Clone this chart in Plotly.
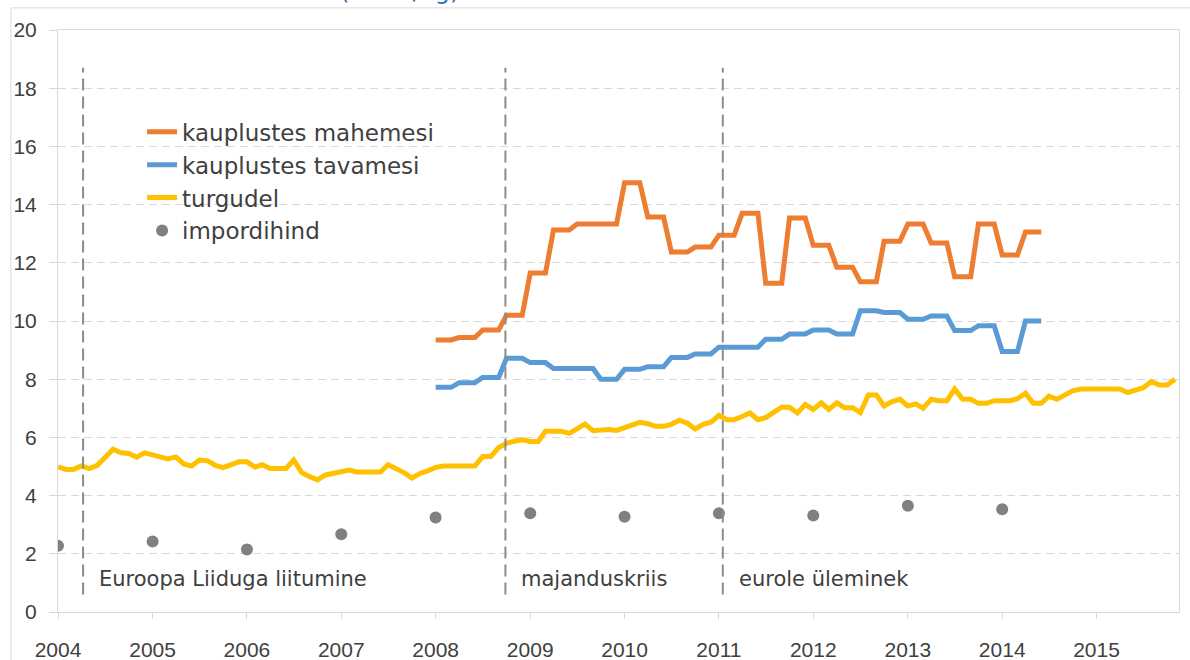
import pandas as pd
import plotly.graph_objects as go

# monthly prices, EUR/kg
turg_2004 = [4.99, 4.90, 4.90, 5.02, 4.93, 5.04, 5.31, 5.59, 5.47, 5.45, 5.32, 5.47]
turg_2005 = [5.40, 5.33, 5.26, 5.33, 5.09, 5.02, 5.22, 5.20, 5.04, 4.96, 5.05, 5.16]
turg_2006 = [5.16, 4.98, 5.06, 4.93, 4.93, 4.93, 5.22, 4.79, 4.65, 4.54, 4.71, 4.76]
turg_2007 = [4.82, 4.88, 4.81, 4.81, 4.81, 4.81, 5.06, 4.93, 4.79, 4.60, 4.76, 4.85]
turg_2008 = [4.97, 5.02, 5.02, 5.02, 5.02, 5.02, 5.34, 5.34, 5.65, 5.80, 5.87, 5.92]
turg_2009 = [5.86, 5.86, 6.21, 6.21, 6.21, 6.14, 6.30, 6.46, 6.23, 6.27, 6.27, 6.24]
turg_2010 = [6.35, 6.45, 6.52, 6.47, 6.38, 6.38, 6.45, 6.59, 6.49, 6.29, 6.45, 6.52]
turg_2011 = [6.76, 6.61, 6.61, 6.72, 6.84, 6.61, 6.68, 6.86, 7.04, 7.04, 6.84, 7.13]
turg_2012 = [6.96, 7.19, 6.96, 7.19, 7.02, 7.02, 6.85, 7.46, 7.46, 7.08, 7.23, 7.31]
turg_2013 = [7.08, 7.15, 7.00, 7.31, 7.26, 7.26, 7.66, 7.31, 7.31, 7.17, 7.17, 7.26]
turg_2014 = [7.26, 7.26, 7.33, 7.52, 7.17, 7.17, 7.42, 7.31, 7.46, 7.60, 7.66, 7.66]
turg_2015 = [7.66, 7.66, 7.66, 7.66, 7.54, 7.62, 7.71, 7.92, 7.80, 7.80, 8.00]  # to Nov

# shop prices (quarterly figures, shown per month), Jan 2008 - Jun 2014
mahe = [9.35, 9.35, 9.35, 9.43, 9.43, 9.43, 9.69, 9.69, 9.69, 10.2, 10.2, 10.2,
        11.65, 11.65, 11.65, 13.13, 13.13, 13.13, 13.33, 13.33, 13.33, 13.33, 13.33, 13.33,
        14.75, 14.75, 14.75, 13.57, 13.57, 13.57, 12.37, 12.37, 12.37, 12.54, 12.54, 12.54,
        12.95, 12.95, 12.95, 13.7, 13.7, 13.7, 11.3, 11.3, 11.3, 13.54, 13.54, 13.54,
        12.6, 12.6, 12.6, 11.85, 11.85, 11.85, 11.35, 11.35, 11.35, 12.74, 12.74, 12.74,
        13.33, 13.33, 13.33, 12.68, 12.68, 12.68, 11.52, 11.52, 11.52, 13.33, 13.33, 13.33,
        12.27, 12.27, 12.27, 13.06, 13.06, 13.06]
tava = [7.72, 7.72, 7.72, 7.88, 7.88, 7.88, 8.06, 8.06, 8.06, 8.72, 8.72, 8.72,
        8.57, 8.57, 8.57, 8.37, 8.37, 8.37, 8.37, 8.37, 8.37, 8.0, 8.0, 8.0,
        8.34, 8.34, 8.34, 8.43, 8.43, 8.43, 8.75, 8.75, 8.75, 8.87, 8.87, 8.87,
        9.1, 9.1, 9.1, 9.1, 9.1, 9.1, 9.37, 9.37, 9.37, 9.55, 9.55, 9.55,
        9.69, 9.69, 9.69, 9.55, 9.55, 9.55, 10.35, 10.35, 10.35, 10.29, 10.29, 10.29,
        10.06, 10.06, 10.06, 10.17, 10.17, 10.17, 9.67, 9.67, 9.67, 9.84, 9.84, 9.84,
        8.95, 8.95, 8.95, 10.0, 10.0, 10.0]

import_years = ["2004-01-01", "2005-01-01", "2006-01-01", "2007-01-01", "2008-01-01", "2009-01-01",
                "2010-01-01", "2011-01-01", "2012-01-01", "2013-01-01", "2014-01-01"]
import_price = [2.28, 2.42, 2.15, 2.67, 3.25, 3.39, 3.27, 3.39, 3.32, 3.65, 3.53]

events = ["2004-04-07", "2008-09-27", "2011-01-16"]
event_labels = ["Euroopa Liiduga liitumine", "majanduskriis", "eurole üleminek"]

turg = (turg_2004 + turg_2005 + turg_2006 + turg_2007 + turg_2008 + turg_2009
        + turg_2010 + turg_2011 + turg_2012 + turg_2013 + turg_2014 + turg_2015)
months_all = pd.date_range("2004-01-01", periods=len(turg), freq="MS")
months_shop = pd.date_range("2008-01-01", periods=len(mahe), freq="MS")

TXT = "#404040"
GRID = "#d9d9d9"

fig = go.Figure()
fig.add_trace(go.Scatter(x=months_shop, y=mahe, mode="lines", name="kauplustes mahemesi",
                         line=dict(color="#ED7D31", width=5)))
fig.add_trace(go.Scatter(x=months_shop, y=tava, mode="lines", name="kauplustes tavamesi",
                         line=dict(color="#5B9BD5", width=5)))
fig.add_trace(go.Scatter(x=months_all, y=turg, mode="lines", name="turgudel",
                         line=dict(color="#FFC000", width=5)))
fig.add_trace(go.Scatter(x=import_years, y=import_price, mode="markers", name="impordihind",
                         marker=dict(color="#808080", size=12)))

for d, lab in zip(events, event_labels):
    fig.add_shape(type="line", xref="x", yref="y", x0=d, x1=d, y0=0.6, y1=18.7,
                  line=dict(color="#8c8c8c", width=2, dash="12px,6px"))
    fig.add_annotation(x=d, y=1.15, xref="x", yref="y", text=lab, showarrow=False,
                       xanchor="left", yanchor="middle", xshift=14,
                       font=dict(family="DejaVu Sans", size=21, color=TXT))

# outer chart frame
fig.add_shape(type="rect", xref="paper", yref="paper", x0=-0.042, x1=1.2, y0=-0.5, y1=1.038,
              line=dict(color=GRID, width=1), layer="below")

# title, cut off at the top of the picture
fig.add_annotation(x=0.305, y=1.04, xref="paper", yref="paper", text="(eurot/kg)",
                   showarrow=False, xanchor="center", yanchor="bottom",
                   font=dict(family="DejaVu Sans", size=24, color="#2E75B6"))

fig.update_xaxes(type="date", range=["2004-01-01", "2015-11-16"], tick0="2004-01-01", dtick="M12",
                 tickformat="%Y", showgrid=False, showline=True, mirror=True, linecolor=GRID,
                 ticks="outside", ticklen=6, tickcolor=GRID, ticklabelstandoff=13, automargin=False,
                 tickfont=dict(family="Liberation Sans", size=21, color=TXT), zeroline=False)
fig.update_yaxes(range=[0, 20], tick0=0, dtick=2, showgrid=True, gridcolor=GRID, griddash="8px,5px",
                 gridwidth=1, showline=True, mirror=True, linecolor=GRID, ticks="outside", ticklen=8,
                 tickcolor=GRID, ticklabelstandoff=8, zeroline=False, automargin=False,
                 tickfont=dict(family="Liberation Sans", size=21, color=TXT))

fig.update_layout(width=1190, height=660, margin=dict(l=58, r=11, t=30, b=48),
                  paper_bgcolor="white", plot_bgcolor="white", showlegend=True,
                  legend=dict(x=0.075, y=0.862, xanchor="left", yanchor="top",
                              bgcolor="rgba(0,0,0,0)",
                              font=dict(family="DejaVu Sans", size=23, color=TXT)))

# the page's default body margin would shift the whole figure
fig.write_html("out.html", config={"displayModeBar": False},
               post_script="document.body.style.margin='0px';")
